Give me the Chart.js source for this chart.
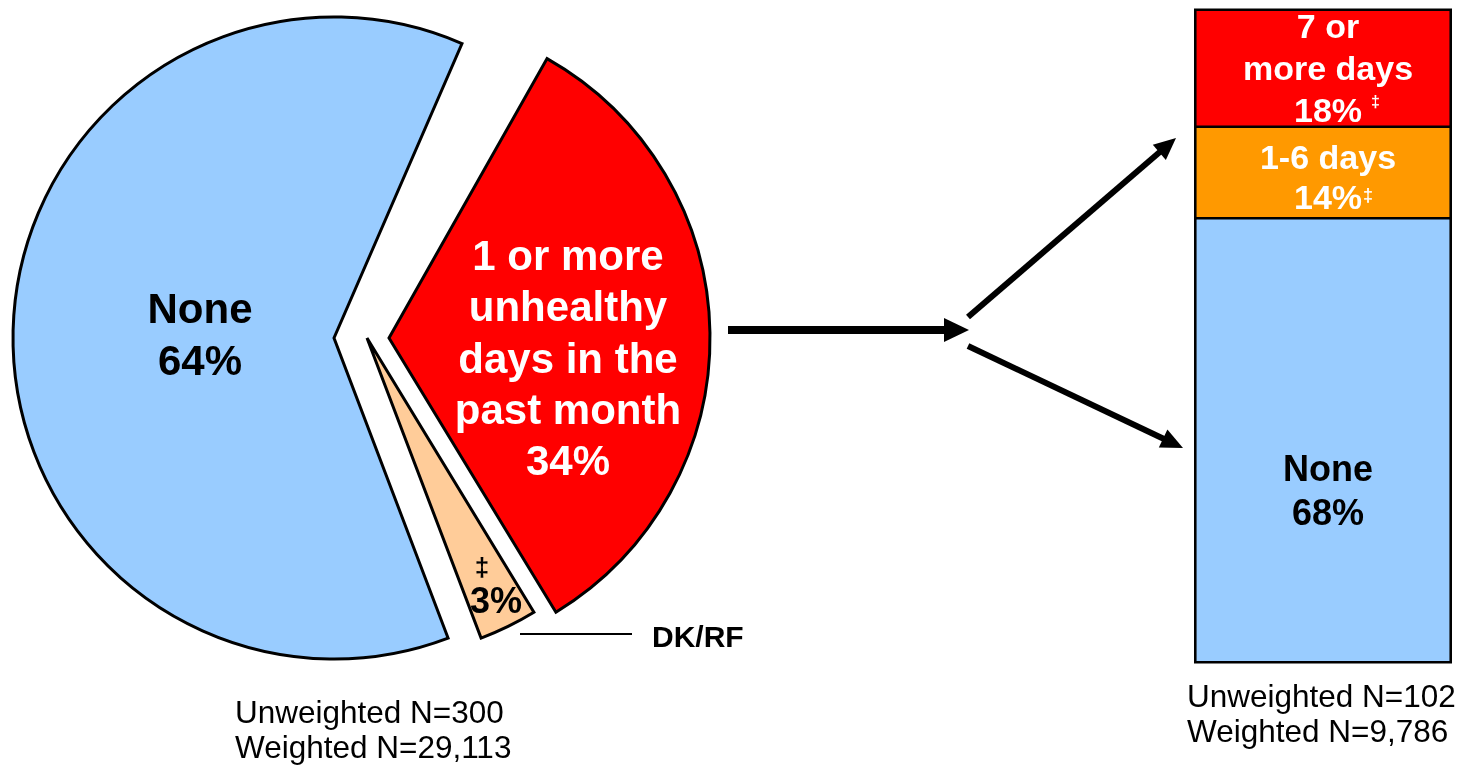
<!DOCTYPE html>
<html>
<head>
<meta charset="utf-8">
<script src="https://cdn.jsdelivr.net/npm/chart.js@4.4.1/dist/chart.umd.min.js"></script>
<style>
html,body{margin:0;padding:0;background:#fff;}
body{width:1462px;height:765px;position:relative;overflow:hidden;font-family:"Liberation Sans",Arial,sans-serif;}
canvas{position:absolute;}
#pie{left:0;top:0;}
#bar{left:1184px;top:0;}
#arrows{position:absolute;left:0;top:0;}
.lbl{position:absolute;font-weight:bold;text-align:center;white-space:nowrap;}
.note{position:absolute;font-size:31.5px;line-height:35px;color:#000;white-space:nowrap;}
.dag{position:absolute;left:100%;line-height:1;font-weight:bold;}
</style>
</head>
<body>
<canvas id="pie" width="760" height="700"></canvas>
<canvas id="bar" width="278" height="680"></canvas>
<svg id="arrows" width="1462" height="765"></svg>

<div class="lbl" style="left:100px;top:283px;width:200px;font-size:42px;line-height:52px;color:#000;">None<br>64%</div>
<div class="lbl" style="left:418px;top:230px;width:300px;font-size:42px;line-height:51.3px;color:#fff;">1 or more<br>unhealthy<br>days in the<br>past month<br>34%</div>
<div class="lbl" style="left:462px;top:554px;width:40px;font-size:26px;line-height:26px;color:#000;">‡</div>
<div class="lbl" style="left:456px;top:581px;width:80px;font-size:36px;line-height:40px;color:#000;">3%</div>
<div class="lbl" style="left:652px;top:620px;font-size:30px;line-height:34px;color:#000;text-align:left;">DK/RF</div>

<div class="lbl" style="left:1228px;top:5px;width:200px;font-size:34px;line-height:42px;color:#fff;">7 or<br>more days<br><span style="position:relative;">18%<span class="dag" style="margin-left:9px;top:3px;font-size:16px;">‡</span></span></div>
<div class="lbl" style="left:1228px;top:137px;width:200px;font-size:34px;line-height:40px;color:#fff;">1-6 days<br><span style="position:relative;">14%<span class="dag" style="margin-left:1px;top:8px;font-size:18px;">‡</span></span></div>
<div class="lbl" style="left:1228px;top:447px;width:200px;font-size:36px;line-height:44px;color:#000;">None<br>68%</div>

<div class="note" style="left:235px;top:695px;">Unweighted N=300<br>Weighted N=29,113</div>
<div class="note" style="left:1187px;top:679px;">Unweighted N=102<br>Weighted N=9,786</div>

<script>
// pie: health status, all respondents
const pieLabels = ["1 or more unhealthy days in the past month", "DK/RF", "None"];
const pieValues = [34, 3, 64];
const pieColors = ["#ff0000", "#ffcc99", "#99ccff"];
const pieShift = [55, 33, 0]; // exploded slices, px to the right

// bar: those with 1+ unhealthy days, split
const barCategory = ["Unhealthy days"];
const barSeries = ["None", "1-6 days", "7 or more days"];
const barValues = [68, 14, 18];
const barColors = ["#99ccff", "#ff9900", "#ff0000"];

const explode = {
  id: "explode",
  beforeDatasetsDraw(chart) {
    const a = chart.chartArea;
    const cx = (a.left + a.right) / 2;
    chart.getDatasetMeta(0).data.forEach((arc, i) => { arc.x = cx + pieShift[i]; });
  }
};

new Chart(document.getElementById("pie"), {
  type: "pie",
  data: {
    labels: pieLabels,
    datasets: [{
      data: pieValues,
      backgroundColor: pieColors,
      borderColor: "#000",
      borderWidth: 3,
      borderJoinStyle: "miter",
      clip: false
    }]
  },
  options: {
    responsive: false,
    animation: false,
    events: [],
    rotation: 29.5,
    circumference: 354,
    radius: 321,
    layout: { padding: { left: 0, top: 0, right: 92, bottom: 24 } },
    plugins: { legend: { display: false }, tooltip: { enabled: false } }
  },
  plugins: [explode]
});

new Chart(document.getElementById("bar"), {
  type: "bar",
  data: {
    labels: barCategory,
    datasets: barSeries.map((s, i) => ({
      label: s,
      data: [barValues[i]],
      backgroundColor: barColors[i],
      borderColor: "#000",
      borderWidth: { top: 1.5, bottom: 1.5, left: 2.5, right: 2.5 },
      borderSkipped: false,
      barPercentage: 1,
      categoryPercentage: 1
    }))
  },
  options: {
    responsive: false,
    animation: false,
    events: [],
    layout: { padding: { left: 10, right: 10, top: 9, bottom: 17 } },
    plugins: { legend: { display: false }, tooltip: { enabled: false } },
    scales: {
      x: { display: false, stacked: true },
      y: { display: false, stacked: true, min: 0, max: 100 }
    }
  }
});

// arrows + DK/RF leader line
const svg = document.getElementById("arrows");
const NS = "http://www.w3.org/2000/svg";
function el(tag, attrs) {
  const e = document.createElementNS(NS, tag);
  for (const k in attrs) e.setAttribute(k, attrs[k]);
  svg.appendChild(e);
  return e;
}
function arrow(x1, y1, x2, y2, w, len, half) {
  const d = Math.hypot(x2 - x1, y2 - y1), ux = (x2 - x1) / d, uy = (y2 - y1) / d;
  const bx = x2 - ux * len, by = y2 - uy * len;
  el("line", { x1, y1, x2: bx + ux, y2: by + uy, stroke: "#000", "stroke-width": w });
  el("polygon", { points: `${x2},${y2} ${bx - uy * half},${by + ux * half} ${bx + uy * half},${by - ux * half}`, fill: "#000" });
}
arrow(728, 330, 969, 330, 8, 25, 12);
arrow(968, 317, 1176, 138, 6, 22, 10);
arrow(968, 346, 1183, 448, 6, 22, 10);
el("line", { x1: 520, y1: 634, x2: 632, y2: 634, stroke: "#000", "stroke-width": 2 });
// outer frame of the bar, so top/bottom edges match the sides
el("rect", { x: 1195.25, y: 9.75, width: 255.5, height: 652.5, fill: "none", stroke: "#000", "stroke-width": 2.5 });
</script>
</body>
</html>
